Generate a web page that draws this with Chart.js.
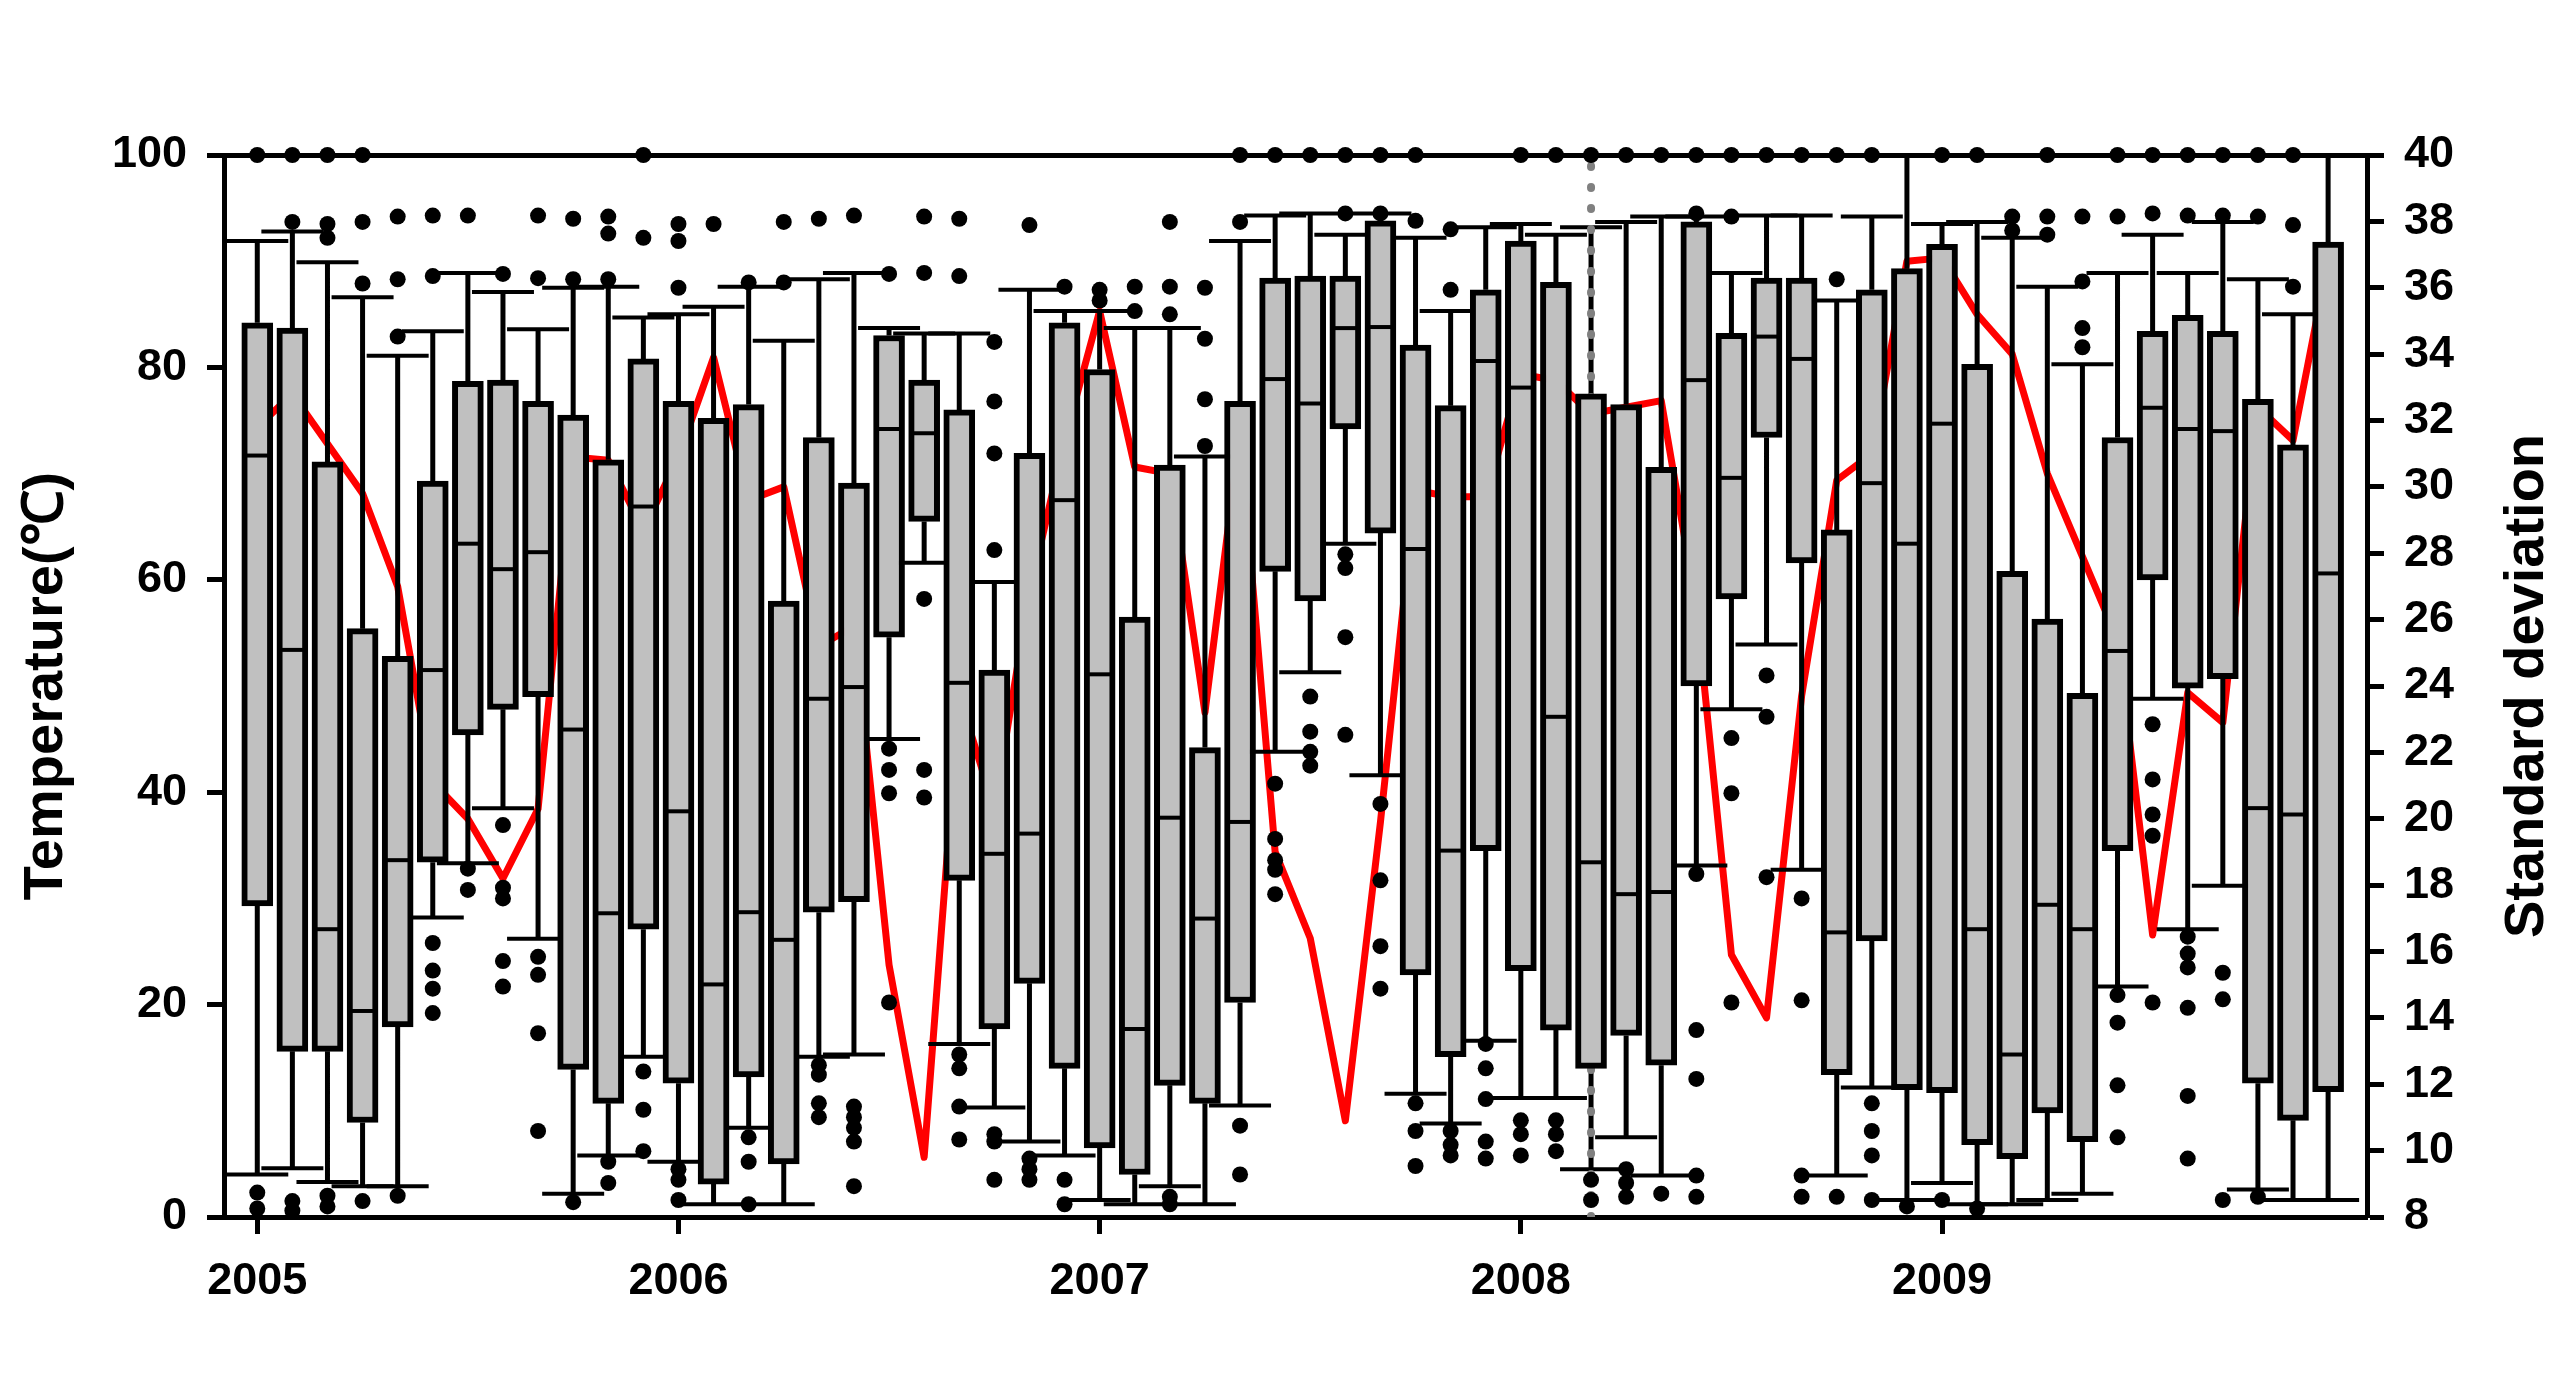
<!DOCTYPE html>
<html><head><meta charset="utf-8">
<script src="https://cdn.jsdelivr.net/npm/chart.js@4.4.0/dist/chart.umd.min.js"></script>
<style>html,body{margin:0;padding:0;background:#fff;}canvas{display:block;}</style>
</head><body>
<canvas id="c" width="2566" height="1399"></canvas>
<script>
// ---- categories ----
const years = [2005, 2006, 2007, 2008, 2009];
const monthsPerYear = 12;
const xTickLabels = [2005, 2006, 2007, 2008, 2009];
const tempTicks = [0, 20, 40, 60, 80, 100];
const sdTicks = [8, 10, 12, 14, 16, 18, 20, 22, 24, 26, 28, 30, 32, 34, 36, 38, 40];
const dividerMonth = { year: 2008, month: 3 };

// ---- box plot series (Temperature, ℃) ----
const whiskerLow = [4.0,4.6,3.3,2.9,2.9,28.2, 33.3,38.5,26.2,2.2,5.8,15.1, 5.2,1.2,8.4,1.2,15.1,15.3,
  45.0,61.6,16.3,10.3,7.1,5.8, 1.6,1.2,2.9,1.2,10.5,43.8, 51.3,63.4,41.6,11.6,8.8,16.6,
  11.2,11.2,4.5,7.5,3.9,33.1, 47.8,53.9,32.7,3.9,12.2,1.6, 3.2,1.2,1.2,1.6,2.2,21.7, 48.8,27.1,31.2,2.6,1.6,1.6];
const q1 = [29.3,15.6,15.6,8.9,17.9,33.4, 45.4,47.8,49.0,13.9,10.7,27.1, 12.6,3.1,13.2,5.0,28.7,29.7,
  54.6,65.5,31.7,17.7,22.0,14.0, 6.5,4.0,12.4,10.7,20.2,60.8, 58.0,74.2,64.4,22.8,15.1,34.5,
  23.2,17.6,14.0,17.1,14.3,50.0, 58.2,73.4,61.6,13.4,26.0,12.0, 11.7,6.8,5.5,9.8,7.1,34.5, 60.0,49.8,50.7,12.6,9.1,11.8];
const median = [71.7,53.4,27.1,19.4,33.6,51.5, 63.4,61.0,62.6,45.9,28.6,66.9, 38.2,21.9,28.7,26.1,48.8,49.9,
  74.2,73.8,50.3,34.2,36.1,67.5, 51.1,17.7,37.6,28.1,37.2,78.9, 76.6,83.7,83.8,62.9,34.5,80.6,
  78.1,47.1,33.4,30.4,30.6,78.8, 69.6,82.9,80.8,26.8,69.1,63.4, 74.7,27.1,15.3,29.4,27.1,53.3, 76.2,74.2,74.0,38.5,37.9,60.6];
const q3 = [84.2,83.7,71.1,55.4,52.8,69.3, 78.7,78.8,76.8,75.5,71.3,80.8, 76.8,75.2,76.5,58.0,73.4,69.1,
  83.0,78.8,76.0,51.5,71.9,84.2, 79.8,56.5,70.8,44.2,76.8,88.4, 88.6,88.6,93.8,82.1,76.4,87.3,
  91.9,88.0,77.5,76.5,70.6,93.7, 83.2,88.4,88.4,64.7,87.3,89.3, 91.6,80.3,60.8,56.3,49.3,73.4, 83.4,84.9,83.4,77.0,72.7,91.8];
const whiskerHigh = [91.9,92.8,89.9,86.6,81.1,83.4, 88.9,87.1,83.6,87.5,87.6,84.7, 85.0,85.7,87.6,82.5,88.3,88.9,
  83.7,83.2,83.2,59.8,87.3,85.3, 85.3,83.7,83.7,71.6,91.9,94.3, 94.5,92.5,94.5,92.2,85.3,93.2,
  93.5,92.5,93.2,93.7,94.2,94.2, 88.9,94.3,94.3,86.3,94.2,100, 93.5,93.7,92.2,87.6,80.3,88.9, 92.5,88.9,93.7,88.3,85.0,100];
const outliers = [
  [100,2.3,0.8],[100,93.7,1.5,0.6],[100,93.5,92.2,2.0,1.0],[100,93.7,87.9,1.5],[94.2,88.3,82.9,2.0],[94.3,88.6,25.8,23.2,21.5,19.2],
  [94.3,32.8,30.8],[88.8,36.9,31.0,30.0,24.1,21.7],[94.3,88.4,24.5,22.8,17.3,8.1],[94.0,88.3,1.4],[94.2,92.6,88.3,5.2,3.2],[100,92.2,13.7,10.1,6.2],
  [93.5,91.9,87.5,4.5,3.5,1.6],[93.5],[88.0,7.5,5.2,1.2],[93.7,88.0],[94.0,14.3,13.4,10.7,9.4],[94.3,10.4,9.4,8.4,7.1,2.9],
  [88.8,44.1,42.1,39.9,20.2],[94.2,88.9,58.2,42.1,39.5],[94.0,88.6,15.3,14.0,10.4,7.3],[82.4,76.8,71.9,62.8,7.8,7.1,3.5],[93.4,5.5,4.5,3.5],[87.6,3.5,1.2],
  [87.3,86.3],[87.6,85.3],[93.7,87.6,85.0,1.9,1.2],[87.5,82.7,77.0,72.6],[100,93.7,8.6,4.0],[100,40.8,35.6,33.6,32.7,30.4],
  [100,49.0,45.7,43.8,42.5],[100,94.5,62.4,61.1,54.6,45.4],[100,94.5,38.9,31.7,25.5,21.5],[100,93.8,10.7,8.1,4.8],[93.0,87.3,8.1,6.8,5.8],[16.3,14.0,11.1,7.1,5.5],
  [100,9.1,7.8,5.8],[100,9.1,7.8,6.2],[100,3.5,1.6],[100,4.5,3.2,1.9],[100,2.2],[100,94.5,32.3,17.6,13.0,3.9,1.9],
  [100,94.2,45.1,39.9,20.2],[100,51.0,47.1,32.0],[100,30.0,20.4,3.9,1.9],[100,88.3,1.9],[100,10.7,8.1,5.8,1.6],[1.0],
  [100,1.6],[100,0.8],[94.2,92.9],[100,94.2,92.5],[94.2,88.1,83.7,81.9],[100,94.2,20.9,18.3,12.4,7.5],
  [100,94.5,46.4,41.2,37.9,35.9,20.2],[100,94.3,26.4,24.8,23.5,19.7,11.4,5.5],[100,94.3,23.0,20.5,1.6],[100,94.2,1.9],[100,93.4,87.6],[]
];

// ---- standard deviation (right axis) ----
const stdDev = [31.8,32.8,31.3,29.8,27.0,21.1, 20.0,18.2,20.3,30.9,30.8,28.7, 30.9,33.9,29.6,30.0,25.2,25.8,
  15.6,9.8,23.7,20.3,26.8,31.4, 35.3,30.6,30.4,23.2,31.6,19.0, 16.4,10.9,19.9,29.9,29.7,29.7,
  33.4,33.2,32.2,32.4,32.6,26.4, 15.9,14.0,23.7,30.2,31.0,36.8, 36.9,35.2,34.0,30.4,27.9,25.4, 16.5,23.8,22.9,32.4,31.4,36.8];

// ---- axis ranges ----
const xMin = 2004.921, xMax = 2010.009;
const tempMin = 0, tempMax = 100, sdMin = 8, sdMax = 40;
const leftTitle = 'Temperature(℃)';
const rightTitle = 'Standard deviation';

// ---- build ----
const monthX = [];
years.forEach(y => { for (let m = 0; m < monthsPerYear; m++) monthX.push(y + m / monthsPerYear); });
const dividerX = dividerMonth.year + (dividerMonth.month - 1) / monthsPerYear;

const whiskerPts = [];
monthX.forEach((x, i) => {
  whiskerPts.push({x, y: whiskerLow[i]}, {x, y: q1[i]}, {x, y: null},
                  {x, y: q3[i]}, {x, y: whiskerHigh[i]}, {x, y: null});
});
const capPts = [];
monthX.forEach((x, i) => { capPts.push({x, y: whiskerLow[i]}, {x, y: whiskerHigh[i]}); });
const outlierPts = [];
monthX.forEach((x, i) => outliers[i].forEach(v => outlierPts.push({x, y: v})));

const FONT = '"Liberation Sans", Arial, Helvetica, sans-serif';
Chart.defaults.font.family = FONT;
Chart.defaults.color = '#000';

const rightTitlePlugin = {
  id: 'rightTitle',
  afterDraw(chart) {
    const ctx = chart.ctx, a = chart.chartArea;
    ctx.save();
    ctx.translate(chart.width - 38, (a.top + a.bottom) / 2);
    ctx.rotate(-Math.PI / 2);
    ctx.font = 'bold 56px ' + FONT;
    ctx.fillStyle = '#000';
    ctx.textAlign = 'center';
    ctx.textBaseline = 'middle';
    ctx.fillText(rightTitle, 0, 0);
    ctx.restore();
  }
};

const tickFont = {size: 45, weight: 'bold', family: FONT};
const gridOpts = {display: true, offset: false, drawOnChartArea: false, drawTicks: true, tickLength: 17, tickWidth: 5, tickColor: '#000'};
const borderOpts = {display: true, color: '#000', width: 5};

new Chart(document.getElementById('c'), {
  type: 'scatter',
  data: {
    datasets: [
      { type: 'line', label: 'SD', data: monthX.map((x, i) => ({x, y: stdDev[i]})), yAxisID: 'y2', xAxisID: 'x',
        borderColor: '#ff0000', borderWidth: 7, pointRadius: 0, tension: 0, order: 10, borderJoinStyle: 'round' },
      { type: 'line', label: 'whiskers', data: whiskerPts, yAxisID: 'y', xAxisID: 'x',
        borderColor: '#000', borderWidth: 5, pointRadius: 0, spanGaps: false, order: 9 },
      { type: 'scatter', label: 'caps', data: capPts, yAxisID: 'y', xAxisID: 'x',
        pointStyle: 'line', pointRadius: 31, pointBorderWidth: 4, pointBorderColor: '#000', order: 8, clip: false },
      { type: 'line', label: 'divider', data: [{x: dividerX, y: tempMin}, {x: dividerX, y: tempMax}], yAxisID: 'y', xAxisID: 'x',
        borderColor: '#808080', borderWidth: 8, borderDash: [1, 20], borderCapStyle: 'round', pointRadius: 0, order: 7 },
      { type: 'bar', label: 'boxes', data: monthX.map((x, i) => ({x, y: [q1[i], q3[i]]})), yAxisID: 'y', xAxisID: 'x',
        backgroundColor: '#c0c0c0', borderColor: '#000', borderWidth: 6, borderSkipped: false, barThickness: 31, order: 6 },
      { type: 'scatter', label: 'median', data: monthX.map((x, i) => ({x, y: median[i]})), yAxisID: 'y', xAxisID: 'x',
        pointStyle: 'line', pointRadius: 11, pointBorderWidth: 4, pointBorderColor: '#000', order: 5 },
      { type: 'scatter', label: 'outliers', data: outlierPts, yAxisID: 'y', xAxisID: 'x',
        pointRadius: 8, pointBackgroundColor: '#000', pointBorderWidth: 0, order: 4, clip: false }
    ]
  },
  options: {
    responsive: false, animation: false, devicePixelRatio: 1,
    layout: {padding: 0},
    plugins: {legend: {display: false}, tooltip: {enabled: false}},
    events: [],
    scales: {
      x: { type: 'linear', position: 'bottom', min: xMin, max: xMax, offset: false,
        afterBuildTicks: s => { s.ticks = xTickLabels.map(v => ({value: v})); },
        ticks: {font: tickFont, color: '#000', padding: 21, maxRotation: 0, autoSkip: false, callback: v => String(v)},
        grid: gridOpts, border: borderOpts,
        afterFit: s => { s.height = 182; } },
      xTop: { type: 'linear', position: 'top', min: xMin, max: xMax, offset: false,
        ticks: {display: false}, grid: {display: false}, border: borderOpts,
        afterFit: s => { s.height = 155; } },
      y: { type: 'linear', position: 'left', min: tempMin, max: tempMax, stacked: false,
        afterBuildTicks: s => { s.ticks = tempTicks.map(v => ({value: v})); },
        ticks: {font: tickFont, color: '#000', padding: 20},
        grid: gridOpts, border: borderOpts,
        title: {display: true, text: leftTitle, font: {size: 56, weight: 'bold', family: FONT}, color: '#000', padding: {top: 13, bottom: 0}},
        afterFit: s => { s.width = 224; } },
      y2: { type: 'linear', position: 'right', min: sdMin, max: sdMax,
        afterBuildTicks: s => { s.ticks = sdTicks.map(v => ({value: v})); },
        ticks: {font: tickFont, color: '#000', padding: 20},
        grid: gridOpts, border: borderOpts,
        afterFit: s => { s.width = 199; } }
    }
  },
  plugins: [rightTitlePlugin]
});
</script>
</body></html>
